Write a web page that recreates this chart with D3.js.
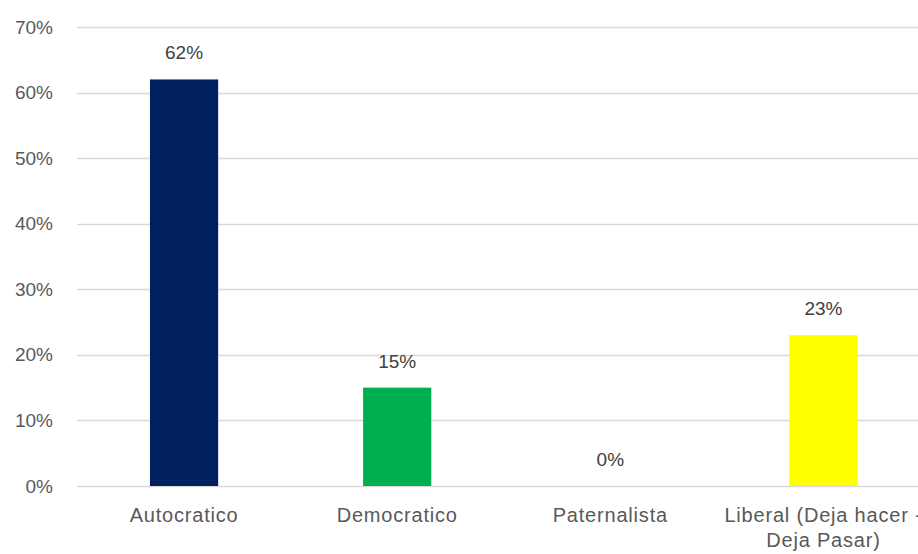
<!DOCTYPE html>
<html><head><meta charset="utf-8">
<script src="https://cdn.jsdelivr.net/npm/d3@7"></script>
<style>body{margin:0;background:#fff;overflow:hidden}svg{display:block}</style>
</head><body>
<script>
const categories = ["Autocratico", "Democratico", "Paternalista", "Liberal (Deja hacer - Deja Pasar)"];
const labelLines = [["Autocratico"], ["Democratico"], ["Paternalista"], ["Liberal (Deja hacer -", "Deja Pasar)"]];
const values = [0.62, 0.15, 0.00, 0.23];
const colors = ["#002060", "#00B050", "#00B050", "#FFFF00"];
const yTicks = [0, 0.1, 0.2, 0.3, 0.4, 0.5, 0.6, 0.7];

const W = 918, H = 554;
const svg = d3.select("body").append("svg").attr("width", W).attr("height", H);
const font = "Liberation Sans, Arial, sans-serif";

const x = d3.scaleBand().domain(categories).range([77.5, 930]).paddingInner(0.68).paddingOuter(0.34);
const y = d3.scaleLinear().domain([0, 0.7]).range([486, 27]);

// gridlines
const grid = svg.append("g");
grid.selectAll("line").data(yTicks).join("line")
  .attr("x1", 77).attr("x2", 930)
  .attr("y1", d => Math.round(y(d)) + 0.5).attr("y2", d => Math.round(y(d)) + 0.5)
  .attr("stroke", "#d9d9d9").attr("stroke-width", 1.3);

// y axis labels
const yAxis = d3.axisLeft(y).tickValues(yTicks).tickFormat(d3.format(".0%")).tickSize(0).tickPadding(0);
const ya = svg.append("g").attr("transform", "translate(53,0)").call(yAxis);
ya.select(".domain").remove();
ya.selectAll("text").attr("font-family", font).attr("font-size", 19).attr("fill", "#595959");

// bars
svg.append("g").selectAll("rect").data(categories).join("rect")
  .attr("x", d => x(d)).attr("width", x.bandwidth())
  .attr("y", (d, i) => y(values[i])).attr("height", (d, i) => y(0) - y(values[i]))
  .attr("fill", (d, i) => colors[i]);

// data labels
svg.append("g").selectAll("text").data(categories).join("text")
  .attr("x", d => x(d) + x.bandwidth() / 2)
  .attr("y", (d, i) => y(values[i]) - 20)
  .attr("text-anchor", "middle")
  .attr("font-family", font).attr("font-size", 19).attr("fill", "#404040")
  .text((d, i) => d3.format(".0%")(values[i]));

// category labels
const cl = svg.append("g").selectAll("text").data(categories).join("text")
  .attr("x", d => x(d) + x.bandwidth() / 2)
  .attr("y", 522)
  .attr("text-anchor", "middle")
  .attr("font-family", font).attr("font-size", 20).attr("letter-spacing", 0.8).attr("fill", "#595959");
cl.selectAll("tspan").data((d, i) => labelLines[i]).join("tspan")
  .attr("x", function() { return d3.select(this.parentNode).attr("x"); })
  .attr("dy", (d, j) => j === 0 ? 0 : 25)
  .text(d => d);
</script>
</body></html>
